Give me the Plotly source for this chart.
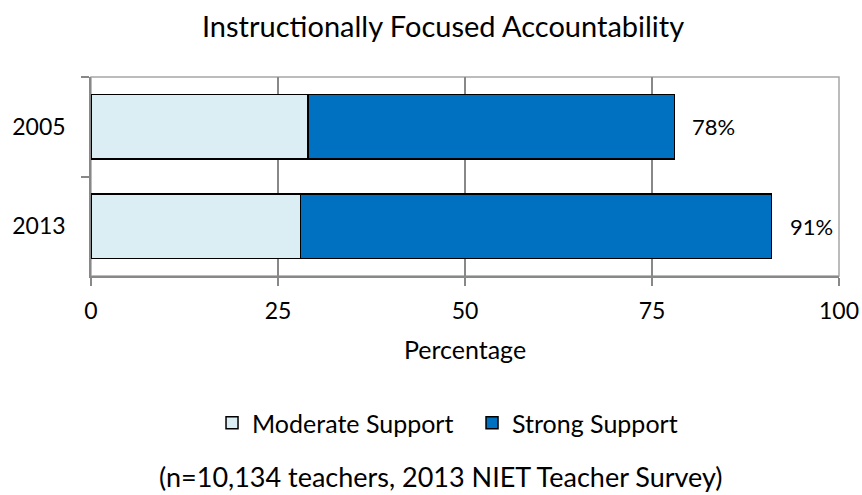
import plotly.graph_objects as go

years = ["2005", "2013"]
moderate = [29, 28]
strong = [49, 63]
series_names = ["Moderate Support", "Strong Support"]
x_ticks = [0, 25, 50, 75, 100]
title_text = "Instructionally Focused Accountability"
x_title = "Percentage"
footnote = "(n=10,134 teachers, 2013 NIET Teacher Survey)"

FONT = "Lato"
NUM = 23
TXT = 25
GRID = "#888888"

fig = go.Figure()
fig.add_trace(go.Bar(
    y=years, x=moderate, orientation="h", name=series_names[0],
    marker=dict(color="#DAEEF3", line=dict(color="black", width=1.5)),
    hoverinfo="x+name",
))
fig.add_trace(go.Bar(
    y=years, x=strong, orientation="h", name=series_names[1],
    marker=dict(color="#0070C0", line=dict(color="black", width=1.5)),
    hoverinfo="x+name",
))

totals = [m + s for m, s in zip(moderate, strong)]
for i, tot in enumerate(totals):
    fig.add_annotation(x=tot, y=i, xref="x", yref="y", text=f"{tot}%",
                       showarrow=False, xanchor="left", xshift=16,
                       font=dict(family=FONT, size=22, color="black"))

fig.add_annotation(x=0.468, y=0, xref="paper", yref="paper", yshift=-200,
                   text=footnote, showarrow=False, xanchor="center", yanchor="middle",
                   borderpad=0,
                   font=dict(family=FONT, size=27, color="black"))

# plot area border (top/right)
fig.add_shape(type="rect", xref="paper", yref="paper", x0=0, x1=1, y0=0, y1=1,
              line=dict(color="#A6A6A6", width=1.5), layer="below")

fig.update_layout(
    width=862, height=495,
    barmode="stack", bargap=0.35,
    plot_bgcolor="white", paper_bgcolor="white",
    margin=dict(l=91, r=23, t=77, b=219, autoexpand=False),
    title=dict(text=title_text, x=0.514, xanchor="center", y=0.945, yanchor="middle",
               font=dict(family=FONT, size=29, color="black")),
    font=dict(family=FONT, size=TXT, color="black"),
    xaxis=dict(range=[0, 100], tickvals=x_ticks, showgrid=True, gridcolor=GRID, gridwidth=1.5,
               showline=True, linecolor=GRID, linewidth=1.5, ticks="outside", ticklen=8,
               tickcolor=GRID, tickwidth=1.5, zeroline=False, automargin=False,
               ticklabelstandoff=6,
               title=dict(text=x_title, standoff=18, font=dict(family=FONT, size=TXT)),
               tickfont=dict(family=FONT, size=NUM)),
    yaxis=dict(type="category", categoryorder="array", categoryarray=years,
               range=[1.5, -0.5], tickson="boundaries", automargin=False,
               showgrid=False, showline=True, linecolor=GRID, linewidth=1.5,
               ticks="outside", ticklen=8, tickcolor=GRID, tickwidth=1.5,
               ticklabelstandoff=19, tickfont=dict(family=FONT, size=NUM)),
    legend=dict(orientation="h", x=0.1618, xanchor="left", y=-0.739, yanchor="middle",
                font=dict(family=FONT, size=TXT), traceorder="normal", entrywidth=215),
    showlegend=True,
)

fig.write_html("out.html", config={"displayModeBar": False},
               post_script="document.body.style.margin='0';")
